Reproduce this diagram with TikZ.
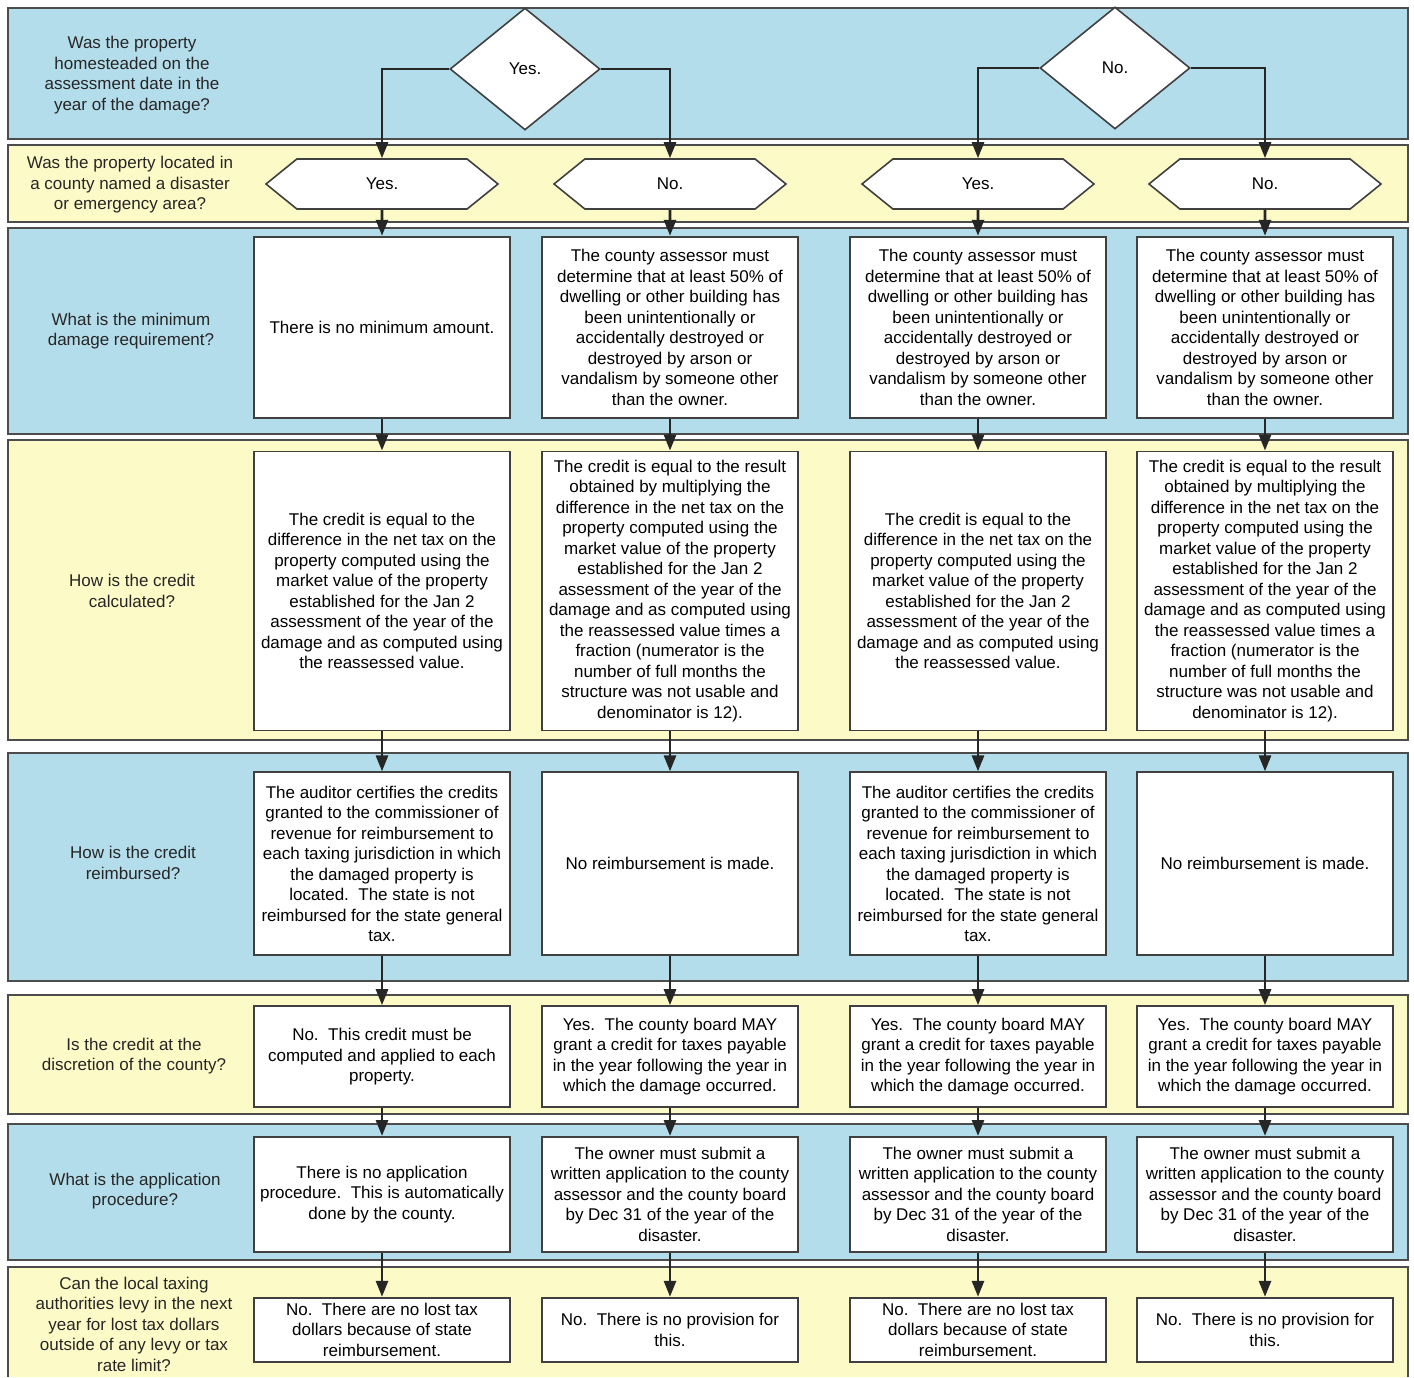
\documentclass[tikz,border=0pt]{standalone}
\usepackage{fontspec}
\setmainfont{Liberation Sans}
\usetikzlibrary{positioning, arrows.meta, shapes.geometric, shapes.symbols}

\definecolor{laneblue}{RGB}{180,221,235}
\definecolor{laneyellow}{RGB}{252,250,198}

\begin{document}
\begin{tikzpicture}[x=1pt, y=-1pt,
    font=\fontsize{17}{20.5}\selectfont,
    lane/.style={draw=black!70, line width=1.2pt},
    question/.style={align=center, text=black!85},
    answer/.style={rectangle, draw=black!75, fill=white, line width=1.8pt, minimum width=256pt, align=center, inner sep=2pt},
    choice/.style={signal, signal to=west and east, signal pointer angle=78, draw=black!75, fill=white, line width=1.6pt, minimum width=232pt, minimum height=50pt},
    decision/.style={diamond, draw=black!75, fill=white, line width=1.6pt, minimum width=150pt, minimum height=122pt, inner sep=0pt},
    arrow/.style={-{Triangle[length=16pt, width=12pt]}, line width=2.8pt, black!85}
]
\useasboundingbox (0,0) rectangle (1414,1377);

% Lanes
\draw[lane, fill=laneblue] (8,8) rectangle (1408,139);
\draw[lane, fill=laneyellow] (8,145) rectangle (1408,222);
\draw[lane, fill=laneblue] (8,228) rectangle (1408,434);
\draw[lane, fill=laneyellow] (8,440) rectangle (1408,740);
\draw[lane, fill=laneblue] (8,753) rectangle (1408,981);
\draw[lane, fill=laneyellow] (8,995) rectangle (1408,1114);
\draw[lane, fill=laneblue] (8,1124) rectangle (1408,1260);
\fill[laneyellow] (8,1267) rectangle (1408,1377);
\draw[lane] (8,1377) -- (8,1267) -- (1408,1267) -- (1408,1377);

% Questions
\node (q1) [question] at (132,75) {Was the property\\homesteaded on the\\assessment date in the\\year of the damage?};
\node (q2) [question] at (130,185) {Was the property located in\\a county named a disaster\\or emergency area?};
\node (q3) [question] at (131,331) {What is the minimum\\damage requirement?};
\node (q4) [question] at (132,591) {How is the credit\\calculated?};
\node (q5) [question] at (133,863) {How is the credit\\reimbursed?};
\node (q6) [question] at (134,1056) {Is the credit at the\\discretion of the county?};
\node (q7) [question] at (135,1191) {What is the application\\procedure?};
\node (q8) [question] at (134,1324) {Can the local taxing\\authorities levy in the next\\year for lost tax dollars\\outside of any levy or tax\\rate limit?};

% Homestead decision
\node (homeyes) [decision] at (525,69) {Yes.};
\node (homeno) [decision] at (1115,68) {No.};

% Disaster area
\node (c1) [choice] at (382,184) {Yes.};
\node (c2) [choice] at (670,184) {No.};
\node (c3) [choice] at (978,184) {Yes.};
\node (c4) [choice] at (1265,184) {No.};

% Minimum damage
\node (m1) [answer, minimum height=181pt, below=26pt of c1] {There is no minimum amount.};
\foreach \c in {2,3,4}
  \node (m\c) [answer, minimum height=181pt, below=26pt of c\c] {The county assessor must\\determine that at least 50\% of\\dwelling or other building has\\been unintentionally or\\accidentally destroyed or\\destroyed by arson or\\vandalism by someone other\\than the owner.};

% Credit calculation
\foreach \c in {1,3}
  \node (k\c) [answer, minimum height=279pt, below=32pt of m\c] {The credit is equal to the\\difference in the net tax on the\\property computed using the\\market value of the property\\established for the Jan 2\\assessment of the year of the\\damage and as computed using\\the reassessed value.};
\foreach \c in {2,4}
  \node (k\c) [answer, minimum height=279pt, below=32pt of m\c] {The credit is equal to the result\\obtained by multiplying the\\difference in the net tax on the\\property computed using the\\market value of the property\\established for the Jan 2\\assessment of the year of the\\damage and as computed using\\the reassessed value times a\\fraction (numerator is the\\number of full months the\\structure was not usable and\\denominator is 12).};

% Reimbursement
\foreach \c in {1,3}
  \node (r\c) [answer, minimum height=183pt, below=40pt of k\c] {The auditor certifies the credits\\granted to the commissioner of\\revenue for reimbursement to\\each taxing jurisdiction in which\\the damaged property is\\located.\ \ The state is not\\reimbursed for the state general\\tax.};
\foreach \c in {2,4}
  \node (r\c) [answer, minimum height=183pt, below=40pt of k\c] {No reimbursement is made.};

% Discretion
\node (d1) [answer, minimum height=101pt, below=49pt of r1] {No.\ \ This credit must be\\computed and applied to each\\property.};
\foreach \c in {2,3,4}
  \node (d\c) [answer, minimum height=101pt, below=49pt of r\c] {Yes.\ \ The county board MAY\\grant a credit for taxes payable\\in the year following the year in\\which the damage occurred.};

% Application
\node (p1) [answer, minimum height=115pt, below=28pt of d1] {There is no application\\procedure.\ \ This is automatically\\done by the county.};
\foreach \c in {2,3,4}
  \node (p\c) [answer, minimum height=115pt, below=28pt of d\c] {The owner must submit a\\written application to the county\\assessor and the county board\\by Dec 31 of the year of the\\disaster.};

% Levy
\foreach \c in {1,3}
  \node (l\c) [answer, minimum height=64pt, below=44pt of p\c] {No.\ \ There are no lost tax\\dollars because of state\\reimbursement.};
\foreach \c in {2,4}
  \node (l\c) [answer, minimum height=64pt, below=44pt of p\c] {No.\ \ There is no provision for\\this.};

% Arrows
\draw[arrow] (homeyes.west) -| (c1.north);
\draw[arrow] (homeyes.east) -| (c2.north);
\draw[arrow] (homeno.west) -| (c3.north);
\draw[arrow] (homeno.east) -| (c4.north);
\foreach \a/\b in {c/m, m/k, k/r, r/d, d/p, p/l}
  \foreach \c in {1,...,4}
    \draw[arrow] (\a\c) -- (\b\c);

\end{tikzpicture}
\end{document}
